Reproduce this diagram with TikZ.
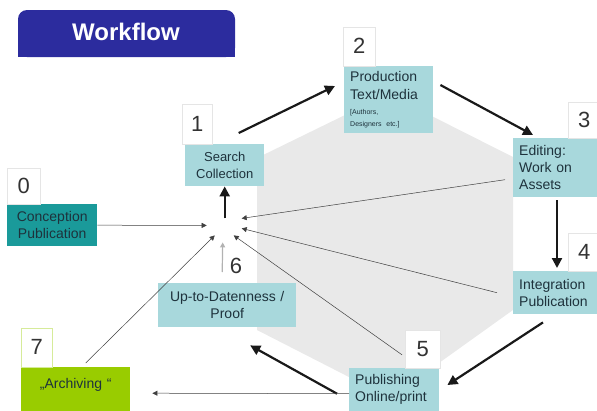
\documentclass[tikz,border=0pt]{standalone}
\usepackage{fontspec}
\setmainfont{Liberation Sans}
\usetikzlibrary{arrows.meta,positioning}
\definecolor{titleblue}{RGB}{44,44,158}
\definecolor{stepblue}{RGB}{168,216,220}
\definecolor{stepteal}{RGB}{26,154,154}
\definecolor{archgreen}{RGB}{153,204,0}
\definecolor{hexgray}{RGB}{233,233,233}
\definecolor{stepink}{RGB}{30,50,60}
\newcommand{\stepfont}{\fontsize{14}{17}\selectfont}
\newcommand{\numfont}{\fontsize{22}{22}\selectfont}
\newcommand{\notefont}{\fontsize{7}{9}\selectfont}
\newcommand{\titlefont}{\fontsize{24}{24}\selectfont\bfseries}
\tikzset{
  stepbox/.style={fill=stepblue,text=stepink,font=\stepfont,anchor=north west,
    inner xsep=6pt,inner ysep=0pt,align=left},
  numbox/.style={draw=black!10,fill=white,text=black!80,font=\numfont,
    inner sep=0pt,minimum width=32pt,minimum height=38pt},
  cycle arrow/.style={-{Triangle[length=10pt,width=10pt]},line width=2.2pt,draw=black!90},
  feed arrow/.style={-{Triangle[length=5pt,width=5pt]},line width=0.5pt,draw=black!75},
}

\begin{document}
\begin{tikzpicture}[x=1pt,y=-1pt]
  \useasboundingbox (0,0) rectangle (597,410);
  \clip (0,0) rectangle (597,410);

  % title tab
  \fill[titleblue,rounded corners=9pt] (18,10) rectangle (235,57);
  \fill[titleblue] (18,40) rectangle (235,57);
  \node[font=\titlefont,text=white] (title) at (126,32) {Workflow};

  % background hexagon
  \fill[hexgray] (388,94) -- (513,157) -- (513,310) -- (390,398) -- (257,330) -- (257,158) -- cycle;

  % steps
  \node[stepbox,fill=stepteal,text width=84pt,inner xsep=3pt,minimum height=42pt,align=center]
    (box0) at (7,204) {Conception\\Publication};
  \node[stepbox,text width=73pt,inner xsep=3pt,minimum height=42pt,align=center,
    font=\fontsize{13}{17}\selectfont] (box1) at (185,144) {Search\\Collection};
  \node[stepbox,text width=77pt,minimum height=67pt] (box2) at (344,66)
    {Production\\[1pt]Text/Media\\[-2pt]{\notefont [Authors,}\\[-5pt]{\notefont Designers etc.]}};
  \node[stepbox,text width=84pt,minimum height=59pt] (box3) at (513,138) {Editing:\\Work on\\Assets};
  \node[stepbox,text width=84pt,minimum height=43pt] (box4) at (513,271) {Integration\\Publication};
  \node[stepbox,text width=78pt,minimum height=43pt] (box5) at (349,368) {Publishing\\Online/print};
  \node[stepbox,text width=132pt,inner xsep=3pt,minimum height=44pt,align=center]
    (box6) at (158,283) {Up-to-Datenness /\\Proof};
  \node[stepbox,fill=archgreen,text width=103pt,inner xsep=3pt,minimum height=50pt,align=center]
    (box7) at (21,367) {„Archiving “\\ \mbox{}};

  % step numbers
  \node[numbox,minimum width=33pt,minimum height=36pt,above right=0pt and 0pt of box0.north west] (num0) {0};
  \node[numbox,minimum width=30pt,minimum height=40pt,above right=0pt and -3pt of box1.north west] (num1) {1};
  \node[numbox,minimum height=39pt,above right=0pt and -1pt of box2.north west] (num2) {2};
  \node[numbox,minimum height=36pt,above right=0pt and 55pt of box3.north west] (num3) {3};
  \node[numbox,minimum height=38pt,above right=0pt and 55pt of box4.north west] (num4) {4};
  \node[numbox,minimum width=35pt,above right=0pt and 56pt of box5.north west] (num5) {5};
  \node[text=black!80,font=\numfont] (num6) at (236,266) {6};
  \node[numbox,draw=archgreen!40,minimum width=31pt,minimum height=39pt,
    above right=0pt and 0pt of box7.north west] (num7) {7};

  % hub where the feedback meets
  \coordinate[below=44pt of box1.south] (hub);

  % main cycle
  \draw[cycle arrow] ([shift={(14,-11)}]box1.north) -- ([shift={(-9,20)}]box2.north west);
  \draw[cycle arrow] ([shift={(7,19)}]box2.north east) -- ([shift={(20,-3)}]box3.north west);
  \draw[cycle arrow] ([shift={(44,3)}]box3.south west) -- ([shift={(44,-3)}]box4.north west);
  \draw[cycle arrow] ([shift={(30,8)}]box4.south west) -- ([shift={(8,17)}]box5.north east);
  \draw[cycle arrow] ([shift={(-12,4)}]box5.west) -- ([shift={(23,18)}]box6.south);
  \draw[cycle arrow] ([shift={(0,-12)}]hub) -- (box1.south);
  \draw[feed arrow] ([shift={(0,4)}]box5.west) -- ([shift={(22,1)}]box7.east);

  % feedback into the hub
  \draw[feed arrow] (box0.east) -- ([shift={(-18,-5)}]hub);
  \draw[feed arrow] ([shift={(-8,12)}]box3.west) -- ([shift={(17,-12)}]hub);
  \draw[feed arrow] ([shift={(-16,0)}]box4.west) -- ([shift={(17,-2)}]hub);
  \draw[feed arrow] ([shift={(-3,6)}]num5.west) -- ([shift={(9,5)}]hub);
  \draw[feed arrow] ([shift={(10,-4)}]box7.north) -- ([shift={(-10,5)}]hub);
  \draw[feed arrow,draw=black!30,line width=1.2pt] ([shift={(-5,-11)}]box6.north) -- ([shift={(-2,12)}]hub);
\end{tikzpicture}
\end{document}
